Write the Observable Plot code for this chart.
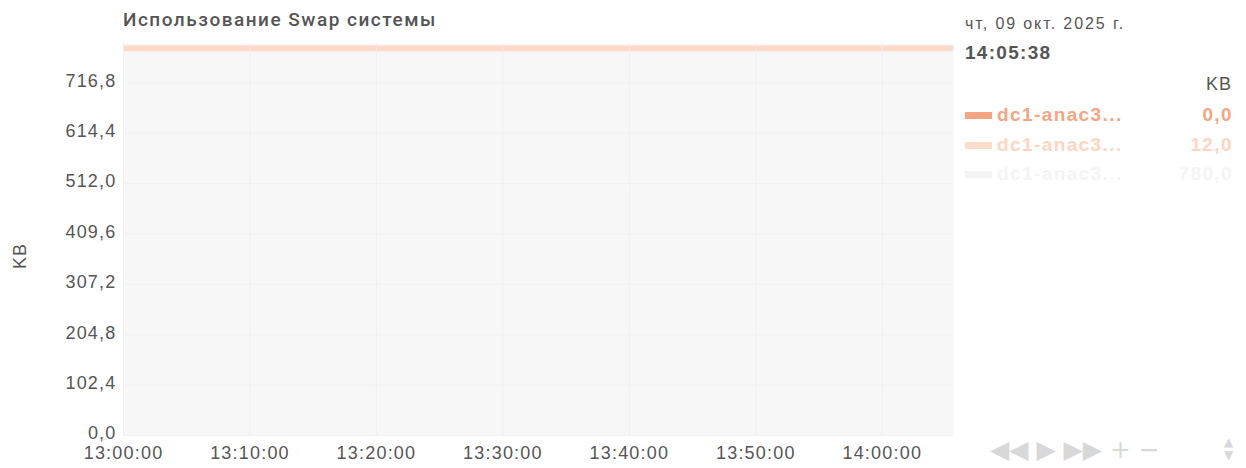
<!DOCTYPE html>
<html>
<head>
<meta charset="utf-8">
<script src="https://cdn.jsdelivr.net/npm/d3@7"></script>
<script src="https://cdn.jsdelivr.net/npm/@observablehq/plot@0.6"></script>
<style>
  html, body { margin: 0; padding: 0; background: #fff; }
  #wrap { position: relative; width: 1246px; height: 468px; overflow: hidden; font-family: "Liberation Sans", Arial, sans-serif; }
  #title { position: absolute; left: 123px; top: 8px; font-family: Roboto, sans-serif; font-weight: 500; font-size: 19px; letter-spacing: 1.5px; color: #555; }
  #date { position: absolute; left: 965px; top: 15px; font-size: 16px; letter-spacing: 1.9px; color: #555; }
  #time { position: absolute; left: 965px; top: 42px; font-size: 19px; font-weight: bold; letter-spacing: 1.3px; color: #555; }
  #unit { position: absolute; right: 14px; top: 74px; font-size: 18px; letter-spacing: 1px; color: #555; }
  .row { position: absolute; left: 965px; width: 267px; height: 22px; font-size: 19px; font-weight: bold; letter-spacing: 1.4px; }
  .row .sw { position: absolute; left: 0; top: 8px; width: 27px; height: 7px; }
  .row .lb { position: absolute; left: 32px; top: 0; }
  .row .vl { position: absolute; right: -1px; top: 0; }
  #ctrl { position: absolute; left: 990px; top: 435px; font-family: "DejaVu Sans", sans-serif; font-size: 25px; color: #d8d8d8; white-space: nowrap; }
  #ctrl2 { position: absolute; left: 1224px; top: 436px; font-family: "DejaVu Sans", sans-serif; font-size: 12px; line-height: 13px; color: #d8d8d8; white-space: pre; }
  svg { position: absolute; left: 0; top: 0; }
  svg g[aria-label$="tick label"] text { letter-spacing: 1.2px; }
</style>
</head>
<body>
<div id="wrap"></div>
<script>
// ---- data ----
const times = ["13:00:00","13:05:00","13:10:00","13:15:00","13:20:00","13:25:00","13:30:00","13:35:00","13:40:00","13:45:00","13:50:00","13:55:00","14:00:00","14:05:38"];
const seriesNames = ["dc1-anac3...", "dc1-anac3...", "dc1-anac3..."];
const seriesKeys = ["free", "cached", "used"];          // legend order
const usedValues   = [780,780,780,780,780,780,780,780,780,780,780,780,780,780];
const cachedValues = [12,12,12,12,12,12,12,12,12,12,12,12,12,12];
const freeValues   = [0,0,0,0,0,0,0,0,0,0,0,0,0,0];
const legendValues = ["0,0", "12,0", "780,0"];
const yTicks = [0, 102.4, 204.8, 307.2, 409.6, 512.0, 614.4, 716.8];
const xTickLabels = ["13:00:00","13:10:00","13:20:00","13:30:00","13:40:00","13:50:00","14:00:00"];
const yMax = 797;
const dateLabel = "чт, 09 окт. 2025 г.";
const timeLabel = "14:05:38";
const titleText = "Использование Swap системы";
const unitText = "KB";

// ---- build ----
const seriesValues = { used: usedValues, cached: cachedValues, free: freeValues };
const colors = { free: "#f4a582", cached: "#fdd9c6", used: "#f7f7f7" };
const legendText = { free: "#f4a582", cached: "#fdd5c0", used: "#f4f4f4" };
const legendSwatch = { free: "#f4a582", cached: "#fddcca", used: "#f3f3f3" };
const day = "2025-10-09T";
const toDate = t => new Date(day + t + "Z");
const stackOrder = ["used", "cached", "free"];
const rows = [];
for (const k of stackOrder) {
  times.forEach((t, i) => rows.push({ t: toDate(t), v: seriesValues[k][i], s: k }));
}
const fmtY = d => d3.format(".1f")(d).replace(".", ",");
const fmtX = d3.utcFormat("%H:%M:%S");

const wrap = document.getElementById("wrap");

const plot = Plot.plot({
  width: 1246,
  height: 468,
  marginLeft: 123,
  marginRight: 293,
  marginTop: 43,
  marginBottom: 33,
  style: { fontFamily: "'Liberation Sans', Arial, sans-serif", fontSize: "18px", color: "#555", background: "transparent" },
  x: { type: "utc", domain: [toDate(times[0]), toDate(times[times.length - 1])], label: null, axis: null },
  y: { domain: [0, yMax], label: null, axis: null },
  color: { domain: stackOrder, range: stackOrder.map(k => colors[k]) },
  marks: [
    Plot.frame({ fill: "#f7f7f7", stroke: null }),
    Plot.areaY(rows, Plot.stackY({ x: "t", y: "v", z: "s", fill: "s", order: stackOrder })),
    Plot.gridX(xTickLabels.map(toDate), { stroke: "#efefef", strokeOpacity: 1, strokeWidth: 1 }),
    Plot.gridY(yTicks, { stroke: "#f1f1f1", strokeOpacity: 1, strokeWidth: 1 }),
    Plot.axisX(xTickLabels.map(toDate), { tickFormat: fmtX, tickSize: 0, tickPadding: 11, fill: "#555" }),
    Plot.axisY(yTicks, { tickFormat: fmtY, tickSize: 0, tickPadding: 7, dy: -2, fill: "#555" })
  ]
});
wrap.appendChild(plot);

const html = (id, text) => { const d = document.createElement("div"); d.id = id; d.textContent = text; wrap.appendChild(d); return d; };
html("title", titleText);
html("date", dateLabel);
html("time", timeLabel);
html("unit", unitText);
seriesKeys.forEach((k, i) => {
  const r = document.createElement("div");
  r.className = "row";
  r.style.top = (104 + i * 29.5) + "px";
  r.style.color = legendText[k];
  const sw = document.createElement("div"); sw.className = "sw"; sw.style.background = legendSwatch[k];
  const lb = document.createElement("div"); lb.className = "lb"; lb.textContent = seriesNames[i];
  const vl = document.createElement("div"); vl.className = "vl"; vl.textContent = legendValues[i];
  r.append(sw, lb, vl);
  wrap.appendChild(r);
});
html("ctrl", "◀◀ ▶ ▶▶ + −");
html("ctrl2", "▲\n▼");

// y axis title
d3.select(plot).append("text").attr("transform", "translate(26,256) rotate(-90)").attr("text-anchor", "middle")
  .attr("font-size", 18).attr("letter-spacing", "1px").attr("fill", "#555").text(unitText);
</script>
</body>
</html>
